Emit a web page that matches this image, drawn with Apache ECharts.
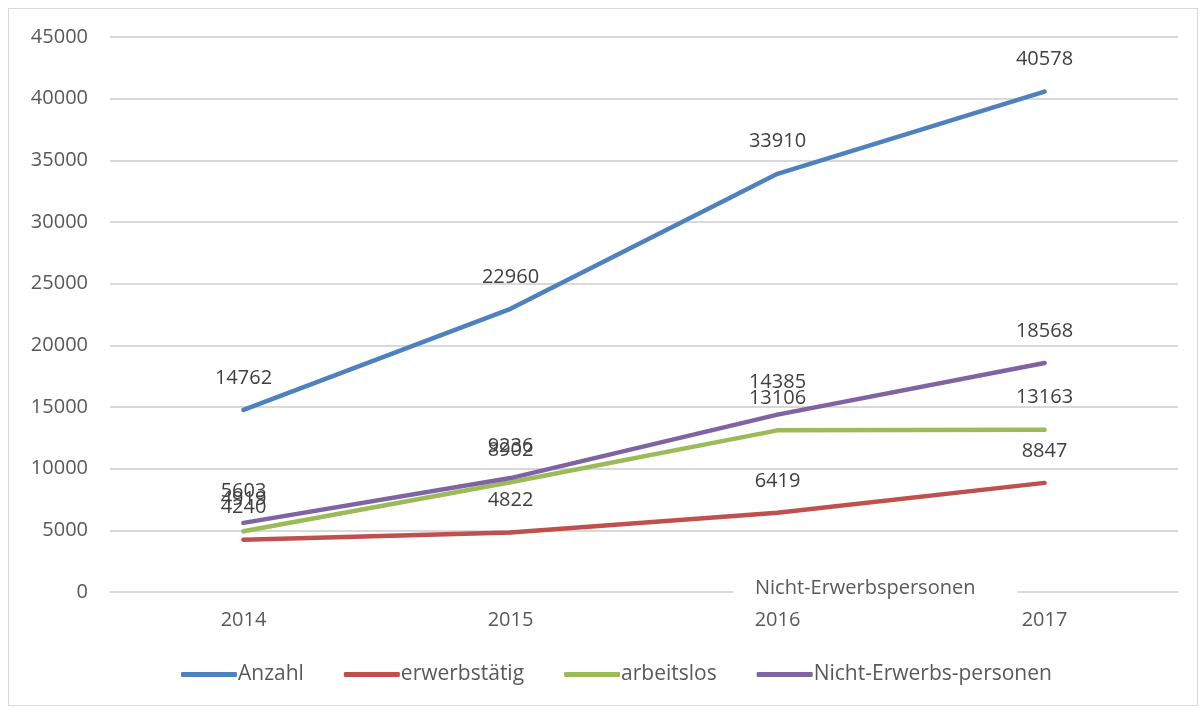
<!DOCTYPE html>
<html>
<head>
<meta charset="utf-8">
<script src="https://cdn.jsdelivr.net/npm/echarts@6/dist/echarts.min.js"></script>
<style>
  html, body { margin: 0; padding: 0; background: #fff; }
  #frame { position: absolute; left: 8px; top: 8px; width: 1190px; height: 698px; border: 1px solid #d9d9d9; box-sizing: border-box; }
  #chart { position: absolute; left: 0; top: 0; width: 1202px; height: 708px; }
</style>
</head>
<body>
<div id="frame"></div>
<div id="chart"></div>
<script>
const years = ['2014', '2015', '2016', '2017']
const anzahl = [14762, 22960, 33910, 40578]
const erwerbstaetig = [4240, 4822, 6419, 8847]
const arbeitslos = [4919, 8902, 13106, 13163]
const nichtErwerbs = [5603, 9236, 14385, 18568]
const yTicks = [0, 5000, 10000, 15000, 20000, 25000, 30000, 35000, 40000, 45000]

const font = 'Open Sans'
const chart = echarts.init(document.getElementById('chart'))

function lineSeries(name, data, color) {
  return {
    name: name,
    type: 'line',
    data: data,
    symbol: 'circle',
    symbolSize: 4,
    showSymbol: true,
    lineStyle: { width: 4.5, color: color, cap: 'round' },
    itemStyle: { color: color },
    label: {
      show: true,
      position: 'top',
      distance: 20,
      color: '#404040',
      fontFamily: font,
      fontSize: 20,
    },
    z: 3,
  }
}

chart.setOption({
  backgroundColor: 'transparent',
  animation: false,
  grid: { left: 110, right: 24, top: 37, bottom: 116 },
  xAxis: {
    type: 'category',
    data: years,
    boundaryGap: true,
    axisLine: { lineStyle: { color: '#d9d9d9', width: 2 } },
    axisTick: { show: false },
    axisLabel: { color: '#595959', fontFamily: font, fontSize: 20, margin: 18 },
  },
  yAxis: {
    type: 'value',
    min: yTicks[0],
    max: yTicks[yTicks.length - 1],
    interval: 5000,
    axisLine: { show: false },
    axisTick: { show: false },
    splitLine: { lineStyle: { color: '#d9d9d9', width: 2 } },
    axisLabel: { color: '#595959', fontFamily: font, fontSize: 20, margin: 22, formatter: v => String(v) },
  },
  legend: {
    bottom: 18,
    left: 176,
    itemWidth: 56,
    itemHeight: 5,
    itemGap: 40,
    icon: 'roundRect',
    textStyle: { color: '#595959', fontFamily: font, fontSize: 21, padding: [0, 0, 0, -4] },
    data: ['Anzahl', 'erwerbstätig', 'arbeitslos', 'Nicht-Erwerbs-personen'],
  },
  graphic: [{
    type: 'text',
    left: 733,
    top: 577,
    z: 10,
    style: {
      text: 'Nicht-Erwerbspersonen',
      fill: '#595959',
      font: '20px "Open Sans"',
      backgroundColor: '#fff',
      padding: [1, 42, 1, 22],
    },
  }],
  series: [
    lineSeries('Anzahl', anzahl, '#4f81bd'),
    lineSeries('erwerbstätig', erwerbstaetig, '#c0504d'),
    lineSeries('arbeitslos', arbeitslos, '#9bbb59'),
    lineSeries('Nicht-Erwerbs-personen', nichtErwerbs, '#8064a2'),
  ],
})
</script>
</body>
</html>
